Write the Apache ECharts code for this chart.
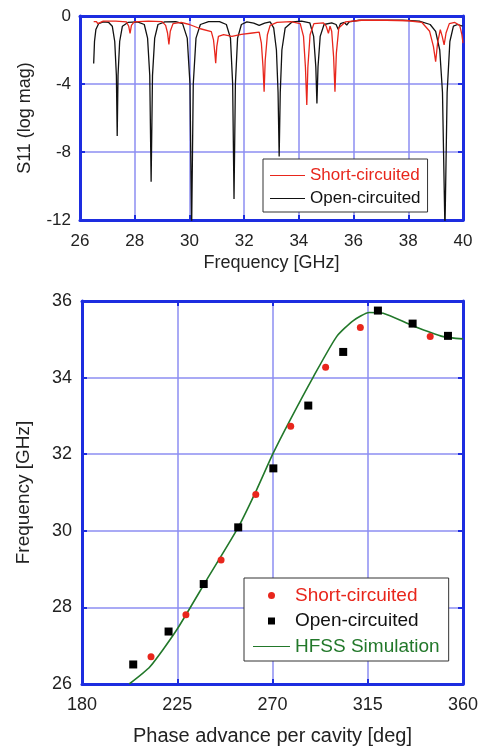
<!DOCTYPE html>
<html><head><meta charset="utf-8">
<script src="https://cdn.jsdelivr.net/npm/echarts@6/dist/echarts.min.js"></script>
<style>html,body{margin:0;padding:0;background:#fff}#c{width:482px;height:747px}</style>
</head><body><div id="c"></div>
<script>
// ---------- Top panel: S11 traces [frequency GHz, S11 log mag] ----------
const openTrace = [
  [26.50,-2.8],[26.53,-1.5],[26.58,-0.8],[26.68,-0.45],[26.85,-0.35],[27.05,-0.38],[27.18,-0.6],[27.27,-1.5],[27.33,-3.5],[27.36,-7.06],[27.39,-3.5],[27.45,-1.5],[27.55,-0.6],[27.75,-0.38],
  [28.10,-0.35],[28.35,-0.5],[28.47,-1.3],[28.55,-3.5],[28.60,-9.75],[28.65,-3.5],[28.73,-1.3],[28.85,-0.5],[29.10,-0.35],[29.50,-0.33],[29.75,-0.45],[29.92,-1.3],[30.02,-4],[30.08,-12.6],[30.14,-4],[30.24,-1.3],[30.40,-0.5],
  [30.70,-0.33],[31.10,-0.33],[31.35,-0.5],[31.50,-1.3],[31.58,-4],[31.63,-10.76],[31.68,-4],[31.76,-1.3],[31.90,-0.5],[32.10,-0.35],[32.35,-0.42],[32.55,-0.55],[32.75,-0.42],[32.95,-0.35],
  [33.08,-0.7],[33.18,-2],[33.24,-4.5],[33.28,-8.27],[33.32,-4.5],[33.38,-2],[33.50,-0.7],[33.75,-0.35],[34.10,-0.3],[34.40,-0.4],[34.54,-1.2],[34.62,-3],[34.66,-5.14],[34.70,-3],[34.78,-1.2],[34.92,-0.5],
  [35.20,-0.4],[35.36,-0.5],[35.44,-0.8],[35.52,-0.45],[35.66,-0.38],[35.75,-0.53],[35.84,-0.35],[36.20,-0.25],[37.00,-0.25],[37.80,-0.25],[38.40,-0.3],[38.80,-0.5],[39.00,-0.9],[39.15,-2],[39.25,-4.5],[39.34,-12.6],
  [39.42,-4.5],[39.52,-1.5],[39.65,-0.6],[39.80,-0.5],[39.98,-0.6]
];
const shortTrace = [
  [26.50,-0.33],[26.60,-0.33],[26.65,-0.45],[26.68,-0.55],[26.72,-0.38],[26.85,-0.3],[27.30,-0.3],[27.70,-0.35],[27.78,-0.6],[27.83,-1.02],[27.88,-0.55],[27.98,-0.35],[28.50,-0.3],[29.00,-0.33],
  [29.13,-0.55],[29.20,-1.0],[29.25,-1.67],[29.30,-0.9],[29.40,-0.45],[29.70,-0.38],[30.00,-0.5],[30.40,-0.75],[30.80,-0.92],[30.88,-1.4],[30.93,-2.2],[30.96,-2.78],[31.00,-1.8],[31.06,-1.2],[31.25,-1.1],
  [31.55,-1.2],[31.90,-1.08],[32.30,-1.0],[32.55,-0.95],[32.63,-1.6],[32.69,-3],[32.73,-4.45],[32.77,-2.6],[32.85,-1.1],[32.95,-0.55],[33.20,-0.38],[33.70,-0.33],[34.05,-0.45],[34.17,-1.2],[34.24,-3],
  [34.29,-5.24],[34.33,-3],[34.41,-1.1],[34.55,-0.45],[34.90,-0.4],[35.00,-0.6],[35.08,-1.02],[35.14,-0.6],[35.20,-0.9],[35.27,-2.4],[35.32,-4.45],[35.37,-2.2],[35.46,-0.7],[35.70,-0.35],[36.30,-0.25],
  [37.20,-0.25],[38.00,-0.28],[38.50,-0.38],[38.78,-0.9],[38.92,-1.8],[39.00,-2.69],[39.07,-1.6],[39.17,-0.8],[39.24,-1.2],[39.31,-1.7],[39.38,-1.0],[39.50,-0.45],[39.70,-0.38],[39.88,-0.55],[39.96,-1.1],[40.00,-1.6]
];
// ---------- Bottom panel: dispersion ----------
const phaseShort = [212.6,229.1,245.7,262.1,278.6,295.1,311.5,344.5];
const freqShort  = [26.71,27.81,29.24,30.95,32.73,34.27,35.31,35.07];
const phaseOpen  = [204.2,220.9,237.5,253.8,270.4,286.9,303.4,319.8,336.2,352.9];
const freqOpen   = [26.51,27.37,28.61,30.09,31.63,33.27,34.67,35.75,35.41,35.09];
const hfssPhase  = [202.3,212.1,224.7,238.9,253.8,262.5,270.1,278.3,289.3,300.3,308.2,315.7,322.3,336.5,350.7,360];
const hfssFreq   = [26.0,26.45,27.41,28.72,30.09,31.07,32.0,32.89,34.02,35.07,35.49,35.70,35.68,35.35,35.07,35.01];

const legendNames = {'SC2':'Short-circuited','OC2':'Open-circuited','HFSS Simulation':'HFSS Simulation'};

const FONT = 'Liberation Sans, Arial, sans-serif';
const FRAME = '#1d2de0';
const GRIDC = '#8c8ef2';
const RED = '#e8261c';
const GREEN = '#22782a';
const LINE_ICON = 'path://M0,0 H40 V1 H0 Z';
const SQUARE_ICON = 'path://M0,0 H1 V1 H0 Z';

function axis(opts) {
  const main = opts.main;
  return Object.assign({
    type: 'value',
    gridIndex: opts.grid,
    min: opts.min, max: opts.max, interval: opts.interval,
    position: opts.position,
    axisLine: {show: true, onZero: false, lineStyle: {color: FRAME, width: 3}},
    axisTick: {show: true, inside: true, length: 5, lineStyle: {color: FRAME, width: 2}},
    axisLabel: {show: main, color: '#222', fontFamily: FONT, fontSize: opts.fs || 17, margin: opts.margin || 8},
    splitLine: {show: main, lineStyle: {color: GRIDC, width: 1.5}}
  }, opts.extra || {});
}

const chart = echarts.init(document.getElementById('c'), null, {renderer: 'canvas'});
chart.setOption({
  animation: false,
  backgroundColor: '#fff',
  grid: [
    {left: 80, right: 19, top: 16, height: 204, containLabel: false, outerBoundsMode: 'none'},
    {left: 82, right: 19, top: 301, height: 383, containLabel: false, outerBoundsMode: 'none'}
  ],
  xAxis: [
    axis({grid:0, min:26, max:40, interval:2, position:'bottom', main:true, fs:17, margin:13,
      extra:{name:'Frequency [GHz]', nameLocation:'middle', nameGap:34, nameTextStyle:{fontFamily:FONT, fontSize:18, color:'#222'}}}),
    axis({grid:0, min:26, max:40, interval:2, position:'top', main:false}),
    axis({grid:1, min:180, max:360, interval:45, position:'bottom', main:true, fs:18, margin:12,
      extra:{name:'Phase advance per cavity [deg]', nameLocation:'middle', nameGap:42, nameTextStyle:{fontFamily:FONT, fontSize:20, color:'#222'}}}),
    axis({grid:1, min:180, max:360, interval:45, position:'top', main:false})
  ],
  yAxis: [
    axis({grid:0, min:-12, max:0, interval:4, position:'left', main:true, fs:17, margin:9,
      extra:{name:'S11 (log mag)', nameLocation:'middle', nameGap:46, nameTextStyle:{fontFamily:FONT, fontSize:18, color:'#222'}}}),
    axis({grid:0, min:-12, max:0, interval:4, position:'right', main:false}),
    axis({grid:1, min:26, max:36, interval:2, position:'left', main:true, fs:18, margin:10,
      extra:{name:'Frequency [GHz]', nameLocation:'middle', nameGap:49, nameTextStyle:{fontFamily:FONT, fontSize:19, color:'#222'}}}),
    axis({grid:1, min:26, max:36, interval:2, position:'right', main:false})
  ],
  legend: [
    {
      orient: 'vertical', left: 263, top: 159,
      data: [
        {name:'Short-circuited', icon: LINE_ICON, textStyle:{color: RED}},
        {name:'Open-circuited', icon: LINE_ICON, textStyle:{color:'#111'}}
      ],
      itemWidth: 35, itemHeight: 10, itemGap: 6,
      padding: [8, 7, 5, 7],
      backgroundColor: '#fff', borderColor: '#333', borderWidth: 1, borderRadius: 0,
      textStyle: {fontFamily: FONT, fontSize: 17}
    },
    {
      orient: 'vertical', left: 244, top: 578,
      data: [
        {name:'SC2', icon:'circle', textStyle:{color: RED}},
        {name:'OC2', icon: SQUARE_ICON, textStyle:{color:'#111'}},
        {name:'HFSS Simulation', icon: LINE_ICON, textStyle:{color: GREEN}}
      ],
      formatter: function (n) { return legendNames[n]; },
      itemWidth: 37, itemHeight: 7, itemGap: 6.5,
      padding: [8, 9, 5, 9],
      backgroundColor: '#fff', borderColor: '#333', borderWidth: 1, borderRadius: 0,
      textStyle: {fontFamily: FONT, fontSize: 19}
    }
  ],
  series: [
    {name:'Open-circuited', type:'line', xAxisIndex:0, yAxisIndex:0, data: openTrace,
      symbol:'none', lineStyle:{color:'#111', width:1.3}, itemStyle:{color:'#111'}, clip:true, z:2},
    {name:'Short-circuited', type:'line', xAxisIndex:0, yAxisIndex:0, data: shortTrace,
      symbol:'none', lineStyle:{color:RED, width:1.3}, itemStyle:{color:RED}, clip:true, z:3},
    {name:'HFSS Simulation', type:'line', xAxisIndex:2, yAxisIndex:2,
      data: hfssPhase.map((p,i)=>[p, hfssFreq[i]]), smooth:0.2,
      symbol:'none', lineStyle:{color:GREEN, width:1.6}, itemStyle:{color:GREEN}, clip:true, z:2},
    {name:'SC2', type:'scatter', xAxisIndex:2, yAxisIndex:2,
      data: phaseShort.map((p,i)=>[p, freqShort[i]]),
      symbol:'circle', symbolSize:7, itemStyle:{color:RED, opacity:1}, z:3},
    {name:'OC2', type:'scatter', xAxisIndex:2, yAxisIndex:2,
      data: phaseOpen.map((p,i)=>[p, freqOpen[i]]),
      symbol:'rect', symbolSize:8, itemStyle:{color:'#000', opacity:1}, z:3}
  ]
});
</script></body></html>
